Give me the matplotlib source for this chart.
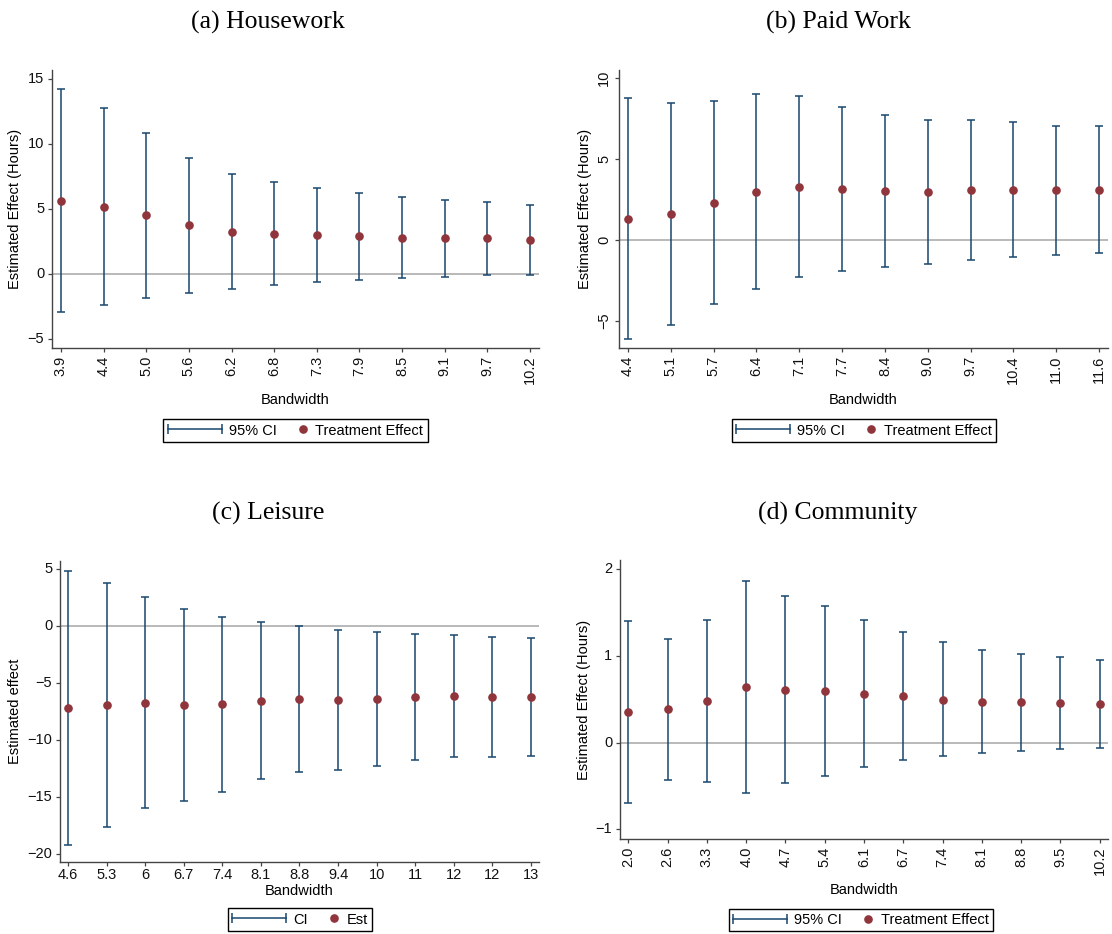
import numpy as np
import matplotlib
matplotlib.use("Agg")
import matplotlib.pyplot as plt
from matplotlib.lines import Line2D
from matplotlib.legend_handler import HandlerLine2D, HandlerBase

plt.rcParams['font.family'] = ['Liberation Sans', 'DejaVu Sans']
plt.rcParams['font.size'] = 10

# ---------------- data ----------------
# (a) Housework
a_labels = ['3.9', '4.4', '5.0', '5.6', '6.2', '6.8', '7.3', '7.9', '8.5', '9.1', '9.7', '10.2']
a_est = [5.64, 5.18, 4.51, 3.74, 3.26, 3.10, 2.97, 2.90, 2.79, 2.77, 2.74, 2.64]
a_lo = [-2.90, -2.36, -1.82, -1.44, -1.15, -0.85, -0.64, -0.44, -0.33, -0.21, -0.10, -0.08]
a_hi = [14.20, 12.74, 10.87, 8.92, 7.69, 7.05, 6.62, 6.23, 5.95, 5.72, 5.56, 5.33]

# (b) Paid Work
b_labels = ['4.4', '5.1', '5.7', '6.4', '7.1', '7.7', '8.4', '9.0', '9.7', '10.4', '11.0', '11.6']
b_est = [1.30, 1.61, 2.31, 2.97, 3.26, 3.13, 3.01, 2.99, 3.09, 3.11, 3.09, 3.09]
b_lo = [-6.12, -5.22, -3.98, -3.01, -2.31, -1.90, -1.69, -1.46, -1.24, -1.05, -0.93, -0.80]
b_hi = [8.74, 8.45, 8.60, 8.99, 8.87, 8.19, 7.75, 7.44, 7.42, 7.30, 7.07, 7.03]

# (c) Leisure
c_labels = ['4.6', '5.3', '6', '6.7', '7.4', '8.1', '8.8', '9.4', '10', '11', '12', '12', '13']
c_est = [-7.23, -6.96, -6.76, -6.96, -6.87, -6.61, -6.43, -6.46, -6.43, -6.23, -6.17, -6.20, -6.20]
c_lo = [-19.18, -17.66, -15.98, -15.36, -14.54, -13.45, -12.81, -12.60, -12.31, -11.75, -11.52, -11.46, -11.40]
c_hi = [4.79, 3.76, 2.50, 1.47, 0.79, 0.32, -0.03, -0.32, -0.56, -0.68, -0.82, -0.94, -1.03]

# (d) Community
d_labels = ['2.0', '2.6', '3.3', '4.0', '4.7', '5.4', '6.1', '6.7', '7.4', '8.1', '8.8', '9.5', '10.2']
d_est = [0.349, 0.380, 0.476, 0.637, 0.610, 0.595, 0.560, 0.530, 0.495, 0.464, 0.461, 0.453, 0.441]
d_lo = [-0.699, -0.426, -0.457, -0.580, -0.464, -0.380, -0.280, -0.203, -0.157, -0.123, -0.092, -0.073, -0.061]
d_hi = [1.393, 1.186, 1.409, 1.858, 1.689, 1.574, 1.405, 1.267, 1.155, 1.063, 1.013, 0.987, 0.948]

NAVY = '#1a476f'
MAROON = '#90353b'
AXC = '#444444'

W, H = 1112, 934
fig = plt.figure(figsize=(W / 100, H / 100), dpi=100)


def px_axes(l, r, t, b):
    return fig.add_axes([l / W, 1 - b / H, (r - l) / W, (b - t) / H])


class DotHandler(HandlerBase):
    def legend_artist(self, legend, orig_handle, fontsize, handlebox):
        handlebox.width = 0.75 * fontsize
        return super().legend_artist(legend, orig_handle, fontsize, handlebox)

    def create_artists(self, legend, orig_handle, xdescent, ydescent, width, height, fontsize, trans):
        ln = Line2D([width / 2 - xdescent], [(height - ydescent) / 2], linestyle='none',
                    marker='o', markersize=orig_handle.get_markersize(),
                    markerfacecolor=orig_handle.get_markerfacecolor(),
                    markeredgecolor=orig_handle.get_markeredgecolor(), transform=trans)
        return [ln]


def panel(rect, labels, est, lo, hi, ylim, yticks, title, title_xy, ylabel, ylab_x,
          xlab_y, rot_x, rot_y, leg_xy, leg_labels, xpad=2.5):
    ax = px_axes(*rect)
    x = np.arange(1, len(labels) + 1)
    lo = np.asarray(lo); hi = np.asarray(hi)
    ax.axhline(0, color='#b3b3b3', lw=1.3, zorder=1)
    ax.errorbar(x, (lo + hi) / 2, yerr=(hi - lo) / 2, fmt='none', ecolor=NAVY,
                elinewidth=1.1, capsize=2.6, capthick=1.1, zorder=2)
    ax.plot(x, est, linestyle='none', marker='o', markersize=5.2, color=MAROON,
            markeredgecolor=MAROON, zorder=3)
    n = len(labels)
    ax.set_xlim(0.79, n + 0.21)
    ax.set_ylim(*ylim)
    ax.set_xticks(x)
    ax.set_xticklabels(labels, rotation=rot_x)
    ax.set_yticks(yticks)
    ax.set_yticklabels([str(v).replace('-', '\u2212') for v in yticks], rotation=rot_y,
                       va='center')
    for s in ['top', 'right']:
        ax.spines[s].set_visible(False)
    for s in ['left', 'bottom']:
        ax.spines[s].set_color(AXC)
        ax.spines[s].set_linewidth(1.0)
    ax.tick_params(direction='out', length=3, width=0.9, color=AXC, labelsize=10.5,
                   labelcolor='#111111', pad=2.5)
    ax.tick_params(axis='x', pad=xpad)
    ax.set_xlabel('Bandwidth', fontsize=10.5, va='center')
    ax.xaxis.set_label_coords(0.5, xlab_y)
    ax.set_ylabel(ylabel, fontsize=10.5, va='center')
    ax.yaxis.set_label_coords(ylab_x, 0.5)
    fig.text(title_xy[0] / W, 1 - title_xy[1] / H, title, ha='center', va='center',
             fontsize=18.5, family=['Liberation Serif', 'DejaVu Serif'])
    h1 = Line2D([], [], color=NAVY, lw=1.1, marker='|', markersize=7, markeredgewidth=1.1)
    h2 = Line2D([], [], linestyle='none', marker='o', markersize=5.2, color=MAROON)
    leg = fig.legend([h1, h2], leg_labels, loc='center',
                     bbox_to_anchor=(leg_xy[0] / W, 1 - leg_xy[1] / H), ncol=2,
                     frameon=True, fancybox=False, edgecolor='black', framealpha=1,
                     fontsize=10.5, handlelength=3.7, handletextpad=0.5, columnspacing=1.4,
                     borderpad=0.3, borderaxespad=0,
                     handler_map={h1: HandlerLine2D(numpoints=2, marker_pad=0),
                                  h2: DotHandler()})
    leg.get_frame().set_linewidth(1.0)
    return ax


panel((52, 539, 70, 348), a_labels, a_est, a_lo, a_hi, (-5.7, 15.7), [-5, 0, 5, 10, 15],
      '(a) Housework', (268, 22), 'Estimated Effect (Hours)', -0.076, -0.187, 90, 0,
      (295.5, 430.5), ['95% CI', 'Treatment Effect'])
panel((619, 1108, 70, 348), b_labels, b_est, b_lo, b_hi, (-6.67, 10.5), [-5, 0, 5, 10],
      '(b) Paid Work', (838, 22), 'Estimated Effect (Hours)', -0.0695, -0.187, 90, 90,
      (864, 430.5), ['95% CI', 'Treatment Effect'])
panel((60, 539, 561, 862), c_labels, c_est, c_lo, c_hi, (-20.7, 5.7),
      [-20, -15, -10, -5, 0, 5],
      '(c) Leisure', (268, 513), 'Estimated effect', -0.094, -0.097, 0, 0,
      (300, 919.5), ['CI', 'Est'], xpad=1.0)
panel((620, 1108, 560, 839), d_labels, d_est, d_lo, d_hi, (-1.11, 2.10), [-1, 0, 1, 2],
      '(d) Community', (838, 513), 'Estimated Effect (Hours)', -0.074, -0.183, 90, 0,
      (861, 920), ['95% CI', 'Treatment Effect'])

fig.savefig('out.png', dpi=100, facecolor='white')
